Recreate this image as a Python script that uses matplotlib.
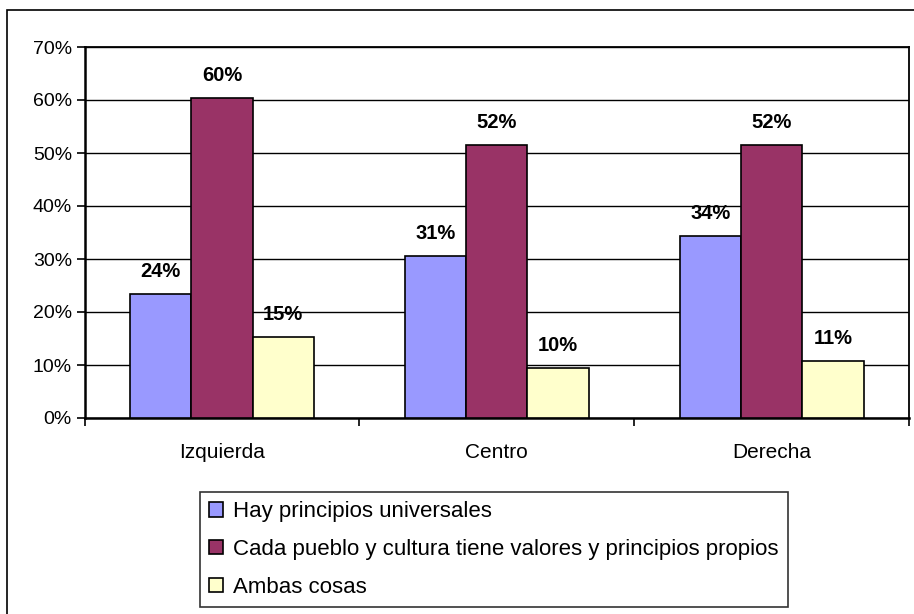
import matplotlib
matplotlib.use("Agg")
import matplotlib.pyplot as plt
import matplotlib.patches as mpatches
import numpy as np

categories = ["Izquierda", "Centro", "Derecha"]
series_names = ["Hay principios universales",
                "Cada pueblo y cultura tiene valores y principios propios",
                "Ambas cosas"]
universales = [23.4, 30.5, 34.3]
propios = [60.4, 51.6, 51.6]
ambas = [15.3, 9.5, 10.8]
labels_universales = ["24%", "31%", "34%"]
labels_propios = ["60%", "52%", "52%"]
labels_ambas = ["15%", "10%", "11%"]
y_ticks = [0, 10, 20, 30, 40, 50, 60, 70]
y_ticklabels = ["0%", "10%", "20%", "30%", "40%", "50%", "60%", "70%"]

colors = ["#9999FF", "#993366", "#FFFFCC"]

plt.rcParams['font.family'] = ['Liberation Sans', 'DejaVu Sans']

W, H = 914, 614
fig = plt.figure(figsize=(W / 100, H / 100), dpi=100)

# outer frame
fig.patches.append(mpatches.Rectangle((7 / W, -0.1), 1.2, 1 - 10 / H + 0.1,
                                      transform=fig.transFigure, fill=False,
                                      edgecolor="black", linewidth=1.2))

ax = fig.add_axes([84.5 / W, 1 - 418 / H, (909 - 84.5) / W, (418 - 47) / H])

x = np.arange(len(categories))
bw = 0.223
series = [universales, propios, ambas]
labels = [labels_universales, labels_propios, labels_ambas]
handles = []
for i, (vals, labs, col, name) in enumerate(zip(series, labels, colors, series_names)):
    pos = x + (i - 1) * bw
    b = ax.bar(pos, vals, width=bw, color=col, edgecolor="black", linewidth=1.2,
               zorder=3, label=name)
    handles.append(b)
    for p, v, l in zip(pos, vals, labs):
        ax.annotate(l, (p, v), xytext=(0, 13), textcoords="offset pixels",
                    ha="center", va="bottom", fontsize=14.5, fontweight="bold")

ax.set_xlim(-0.5, 2.5)
ax.set_ylim(0, 70)
ax.set_yticks(y_ticks)
ax.set_yticklabels(y_ticklabels, fontsize=14)
ax.yaxis.grid(True, color="black", linewidth=1.0, zorder=0)
ax.set_axisbelow(True)

ax.set_xticks([-0.5, 0.5, 1.5, 2.5])
ax.set_xticklabels([])
ax.set_xticks(x, minor=True)
ax.set_xticklabels(categories, minor=True, fontsize=15)
ax.tick_params(axis="x", which="minor", length=0, pad=18)
ax.tick_params(axis="x", which="major", length=6, width=1.2, direction="out")
ax.tick_params(axis="y", which="major", length=6, width=1.2, direction="out", pad=3)

for s in ["left", "bottom"]:
    ax.spines[s].set_linewidth(1.8)
for s in ["top", "right"]:
    ax.spines[s].set_linewidth(1.3)

leg = fig.legend(handles=handles, labels=series_names, loc="upper left",
                 bbox_to_anchor=(200 / W, 1 - 492 / H), borderaxespad=0,
                 fontsize=16, frameon=True, fancybox=False, shadow=False,
                 handlelength=0.62, handleheight=0.62, handletextpad=0.45,
                 labelspacing=0.75, borderpad=0.42)
leg.get_frame().set_edgecolor("black")
leg.get_frame().set_linewidth(1.2)

fig.savefig("out.png", dpi=100)
